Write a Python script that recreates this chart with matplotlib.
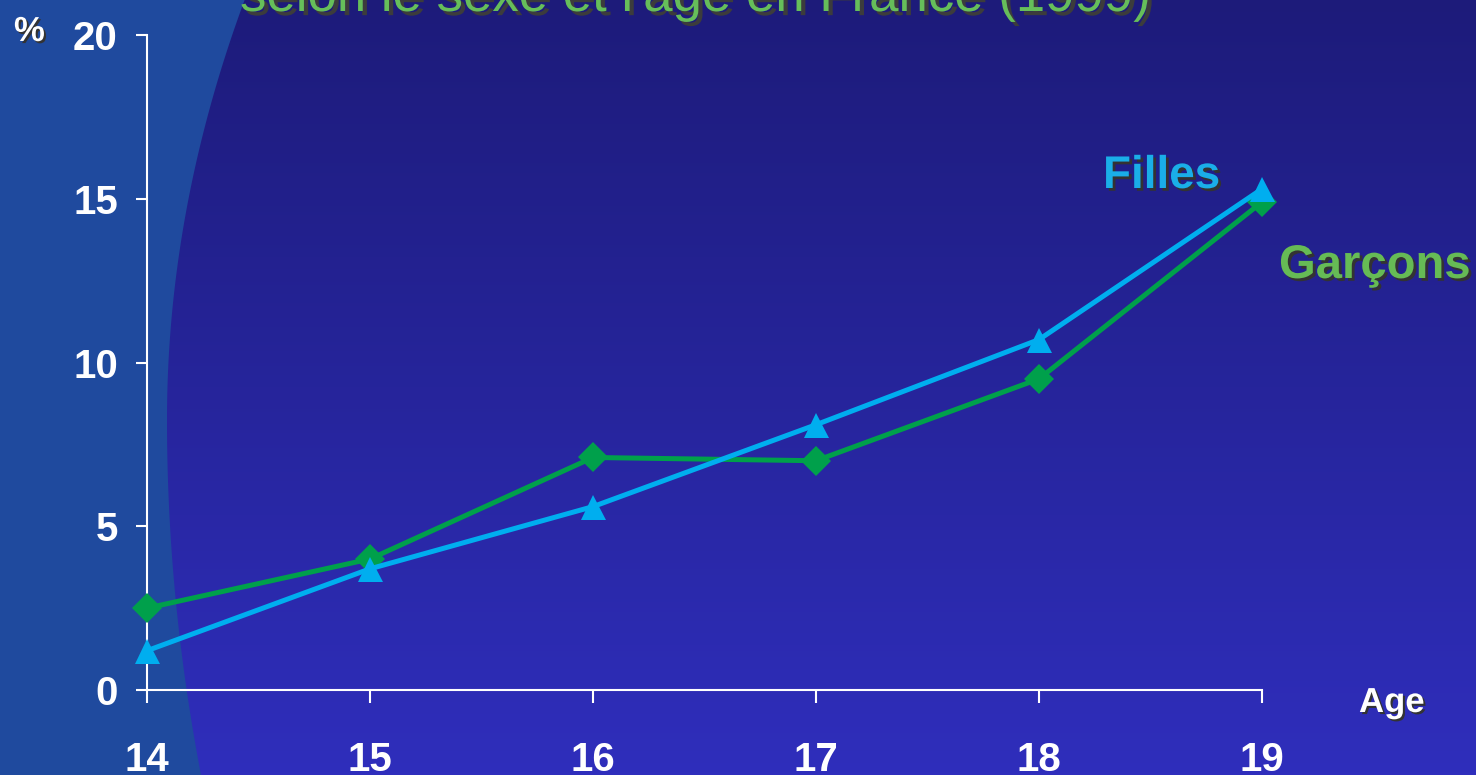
import matplotlib.pyplot as plt
import matplotlib.patheffects as pe
import numpy as np

plt.rcParams['font.family'] = ['Liberation Sans', 'DejaVu Sans']
plt.rcParams['font.weight'] = 'bold'

# share (%) by age, girls and boys
ages = [14, 15, 16, 17, 18, 19]
filles = [1.2, 3.7, 5.6, 8.1, 10.7, 15.3]
garcons = [2.5, 4.0, 7.1, 7.0, 9.5, 14.9]
y_ticks = [0, 5, 10, 15, 20]

W, H = 1476, 775
fig = plt.figure(figsize=(W / 100, H / 100), dpi=100)


def shadow(dx=1.5, dy=-1.5, col='#333333'):
    return [pe.SimplePatchShadow(offset=(dx, dy), shadow_rgbFace=col, alpha=1),
            pe.Normal()]


# slide background: dark blue gradient with a lighter band on the left
bg = fig.add_axes([0, 0, 1, 1])
bg.set_xlim(0, W)
bg.set_ylim(H, 0)
bg.axis('off')
top = np.array([29, 27, 122]) / 255
bottom = np.array([47, 46, 188]) / 255
t = np.linspace(0, 1, 256)[:, None]
grad = top + (bottom - top) * t
bg.imshow(grad[:, None, :], extent=[0, W, H, 0], aspect='auto')
yy = np.linspace(0, H, 300)
k = np.where(yy < 420, 4.4e-4, 2.7e-4)
edge = 167 + k * (yy - 420) ** 2
bg.fill_betweenx(yy, 0, edge, color='#1F4A9E', lw=0)

ax = fig.add_axes([147 / W, 1 - 690 / H, (1262 - 147) / W, 655 / H])
ax.patch.set_alpha(0)
ax.plot(ages, garcons, color='#00A04B', lw=3.6, marker='D', ms=15,
        mew=0, clip_on=False, zorder=3)
ax.plot(ages, filles, color='#00AEEF', lw=3.6, marker='^', ms=18,
        mew=0, clip_on=False, zorder=4)

ax.set_xlim(14, 19)
ax.set_ylim(0, 20)
ax.set_xticks(ages)
ax.set_yticks(y_ticks)
for s in ['top', 'right']:
    ax.spines[s].set_visible(False)
for s in ['left', 'bottom']:
    ax.spines[s].set_color('white')
    ax.spines[s].set_linewidth(1.5)
ax.tick_params(axis='y', length=8, width=1.5, colors='white', labelsize=29, pad=13)
ax.tick_params(axis='x', length=9.5, width=1.5, colors='white', labelsize=29, pad=27)

fig.text(240 / W, 1 - 11 / H, "selon le sexe et l'âge en France (1999)",
         size=38, color='#66BE5A', fontweight='normal', va='baseline',
         path_effects=shadow(3, -3, '#3c3c3c'))
fig.text(14 / W, 1 - 41 / H, '%', size=25, color='white', va='baseline',
         path_effects=shadow())
fig.text(1359 / W, 1 - 712 / H, 'Age', size=25, color='white', va='baseline',
         path_effects=shadow())
fig.text(1103 / W, 1 - 188 / H, 'Filles', size=33, color='#1AAEE8',
         va='baseline', path_effects=shadow(2, -2))
fig.text(1279 / W, 1 - 278 / H, 'Garçons', size=34, color='#66BB55',
         va='baseline', path_effects=shadow(2, -2))

fig.savefig('out.png', dpi=100)
